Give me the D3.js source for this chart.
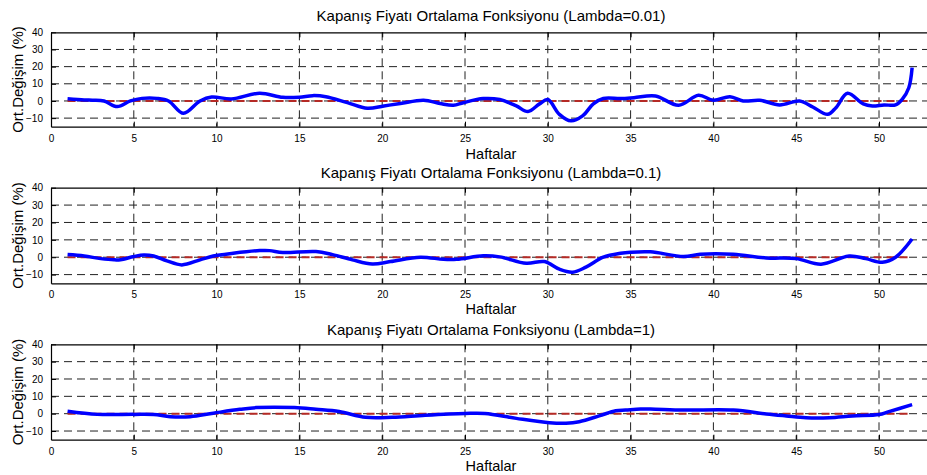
<!DOCTYPE html>
<html>
<head>
<meta charset="utf-8">
<script src="https://cdn.jsdelivr.net/npm/d3@7"></script>
<style>
  body { margin: 0; background: #fff; }
  svg text { font-family: "Liberation Sans", Arial, sans-serif; fill: #000; }
</style>
</head>
<body>
<svg id="chart" width="927" height="475"></svg>
<script>
// Panel titles
const titles = [
  "Kapanış Fiyatı Ortalama Fonksiyonu (Lambda=0.01)",
  "Kapanış Fiyatı Ortalama Fonksiyonu (Lambda=0.1)",
  "Kapanış Fiyatı Ortalama Fonksiyonu (Lambda=1)"
];

const xTicks = [0, 5, 10, 15, 20, 25, 30, 35, 40, 45, 50];
const yTicks = [-10, 0, 10, 20, 30, 40];

// Lambda = 0.01 (week, % change)
const weeks1 = [1, 2, 2.5, 3.2, 4, 4.8, 5.5, 6.4, 7.1, 8, 9, 9.7, 10.9, 12.6, 14, 15, 15.8, 16.6, 17.9, 19.1,
  20.1, 21.1, 22.5, 23.5, 24.3, 24.9, 26.1, 27.1, 28.1, 28.8, 29.5, 30, 30.7, 31.4, 32.1, 32.75, 33.35, 34.4,
  35.2, 36.5, 37.9, 39.1, 40, 41, 41.8, 42.8, 44, 45.2, 46, 46.9, 47.4, 48.1, 49.05, 49.6, 50.3, 51, 51.4, 51.8, 52];
const values1 = [1.3, 0.6, 0.4, 0, -3.3, 0, 1.5, 1.5, 0, -7.2, 0, 2.3, 1.2, 4.5, 2.1, 2.2, 3.1, 2.5, -1, -4.3,
  -2.9, -1.5, 0.4, -1.5, -2.5, -1, 1.4, 0.8, -2.9, -6.2, -1.7, 0.8, -7.8, -11.6, -8.7, -1.7, 1.4, 1.4,
  1.9, 2.9, -2.5, 3.3, 0.4, 2.5, 0, 0.4, -2.3, 0, -3.5, -7.8, -3.9, 4.5, -1.7, -2.9, -2.3, -2.3, 0.9, 7.7, 19.4];

// Lambda = 0.1
const weeks2 = [1, 2, 3, 3.8, 4.2, 5, 5.6, 6.2, 7, 7.9, 9, 9.8, 11, 12.6, 13.2, 14, 16, 17, 18.2, 19.4,
  20.5, 22.3, 23.7, 24.5, 26.1, 27.1, 28.7, 29.8, 30.7, 31.5, 32.3, 33.35, 34.4, 35, 36.2, 38.2, 39.2,
  41.2, 43.2, 45, 46.5, 48.2, 49.2, 50.2, 51, 52];
const values2 = [1.5, 0.7, -0.8, -1.5, -1.4, 0.4, 1.3, 0.7, -2.1, -4.4, -1.5, 0.7, 2.3, 3.8, 3.8, 2.7, 3.3, 1.5, -1.5, -3.9,
  -2.5, 0, -1.2, -1.2, 0.8, 0.2, -3.5, -2.5, -6.9, -8.6, -5.7, 0, 2.3, 2.9, 3.1, 0.4, 1.7,
  1.7, -0.4, -0.8, -4, 0.7, -0.8, -2.9, 0, 10.5];

// Lambda = 1
const weeks3 = [1, 2.8, 5, 6.2, 7.2, 8.4, 9.8, 11.4, 12.4, 14.7, 16, 17.4, 19, 20.6, 22.6, 25, 26.2, 28.1,
  30.1, 31.1, 31.9, 33.1, 34.1, 34.7, 35.6, 36.2, 38.2, 41.2, 43.2, 44.4, 45.6, 47, 48.4, 50, 50.6, 52];
const values3 = [1.4, -0.4, -0.4, -0.5, -1.7, -1.7, 0.3, 2.5, 3.5, 3.5, 2.5, 1.2, -2.1, -2.1, -0.9, 0.1, 0.1, -2.7,
  -5.2, -5.5, -4.6, -1.3, 1.7, 2.1, 2.7, 2.7, 2.1, 2.1, -0.2, -1.3, -2.3, -2.3, -1.3, -0.5, 1.2, 5.2];

const panels = [
  { title: titles[0], weeks: weeks1, values: values1, top: 32.3, bottom: 126.7, titleY: 21, labelY: 158.5 },
  { title: titles[1], weeks: weeks2, values: values2, top: 187.7, bottom: 283.3, titleY: 178, labelY: 314 },
  { title: titles[2], weeks: weeks3, values: values3, top: 344.3, bottom: 439.7, titleY: 335, labelY: 471 }
];

const svg = d3.select("#chart");
const x = d3.scaleLinear().domain([0, 53]).range([51, 51 + 53 * 16.56]);

panels.forEach(p => {
  const y = d3.scaleLinear().domain([-15, 40]).range([p.bottom, p.top]);
  const g = svg.append("g");

  // grid
  g.selectAll(".gx").data(xTicks.filter(d => d > 0)).enter().append("line")
    .attr("x1", d => x(d)).attr("x2", d => x(d))
    .attr("y1", p.top).attr("y2", p.bottom)
    .attr("stroke", "#222").attr("stroke-width", 1)
    .attr("stroke-dasharray", "8,5");
  g.selectAll(".gy").data(yTicks.filter(d => d < 40)).enter().append("line")
    .attr("x1", x(0)).attr("x2", x(53))
    .attr("y1", d => y(d)).attr("y2", d => y(d))
    .attr("stroke", "#222").attr("stroke-width", 1)
    .attr("stroke-dasharray", "8,5");

  // zero reference
  g.append("line")
    .attr("x1", x(1)).attr("x2", x(52))
    .attr("y1", y(0)).attr("y2", y(0))
    .attr("stroke", "#b52a25").attr("stroke-width", 2)
    .attr("stroke-dasharray", "8,5");

  // curve
  const line = d3.line()
    .x((d, i) => x(p.weeks[i]))
    .y(d => y(d))
    .curve(d3.curveCatmullRom.alpha(0.5));
  g.append("path")
    .attr("d", line(p.values))
    .attr("fill", "none")
    .attr("stroke", "#0000ff")
    .attr("stroke-width", 3.5)
    .attr("stroke-linejoin", "round");

  // axes
  const xAxis = d3.axisBottom(x).tickValues(xTicks).tickSizeInner(-5).tickSizeOuter(0).tickPadding(8);
  g.append("g").attr("transform", `translate(0,${p.bottom})`).call(xAxis);
  const xTop = d3.axisTop(x).tickValues(xTicks).tickSizeInner(-5).tickSizeOuter(0).tickFormat("");
  g.append("g").attr("transform", `translate(0,${p.top})`).call(xTop);
  const yAxis = d3.axisLeft(y).tickValues(yTicks).tickSizeInner(-5).tickSizeOuter(0).tickPadding(8);
  g.append("g").attr("transform", `translate(${x(0)},0)`).call(yAxis);
  g.selectAll(".domain").attr("stroke", "#000").attr("stroke-width", 1.2);
  g.selectAll(".tick line").attr("stroke", "#000");
  g.selectAll(".tick text").style("font-size", "10px").style("font-family", "Liberation Sans, Arial, sans-serif");

  // titles and labels
  g.append("text").attr("x", 491).attr("y", p.titleY)
    .attr("text-anchor", "middle").style("font-size", "15px").text(p.title);
  g.append("text").attr("x", 491).attr("y", p.labelY)
    .attr("text-anchor", "middle").style("font-size", "14.5px").text("Haftalar");
  g.append("text")
    .attr("transform", `translate(23,${(p.top + p.bottom) / 2}) rotate(-90)`)
    .attr("text-anchor", "middle").style("font-size", "15px").text("Ort.Değişim (%)");
});
</script>
</body>
</html>
